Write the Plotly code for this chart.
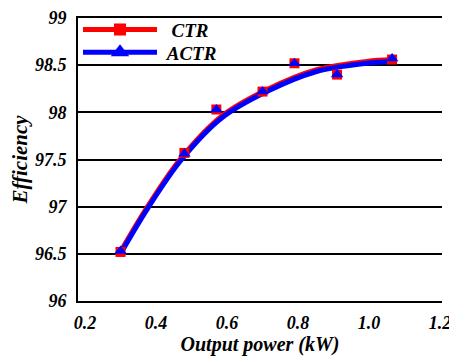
import plotly.graph_objects as go

# Measured data points
power_kw = [0.30, 0.48, 0.57, 0.70, 0.79, 0.91, 1.065]
ctr_eff = [96.52, 97.57, 98.03, 98.22, 98.52, 98.40, 98.56]
actr_eff = [96.53, 97.56, 98.03, 98.22, 98.52, 98.40, 98.57]

# Fitted trend curves
fit_x = [0.303, 0.378, 0.472, 0.585, 0.712, 0.850, 0.994, 1.064]
fit_ctr = [96.54, 97.01, 97.52, 97.96, 98.24, 98.45, 98.54, 98.56]
fit_actr = [96.52, 96.99, 97.50, 97.94, 98.22, 98.43, 98.52, 98.54]

y_ticks = [96, 96.5, 97, 97.5, 98, 98.5, 99]
y_tick_text = ["96", "96.5", "97", "97.5", "98", "98.5", "99"]
x_ticks = [0.2, 0.4, 0.6, 0.8, 1.0, 1.2]
x_tick_text = ["0.2", "0.4", "0.6", "0.8", "1.0", "1.2"]

RED = "#ff0000"
BLUE = "#0000ff"
FONT = "Liberation Serif"
LFONT = dict(family=FONT, size=19, weight="bold", style="italic")

fig = go.Figure()
fig.add_trace(go.Scatter(x=fit_x, y=fit_ctr, mode="lines", line=dict(color=RED, width=5, shape="spline"),
                         showlegend=False, hoverinfo="skip"))
fig.add_trace(go.Scatter(x=fit_x, y=fit_actr, mode="lines", line=dict(color=BLUE, width=5, shape="spline"),
                         showlegend=False, hoverinfo="skip"))
fig.add_trace(go.Scatter(x=power_kw, y=ctr_eff, mode="markers",
                         marker=dict(symbol="square", size=10, color=RED), showlegend=False))
fig.add_trace(go.Scatter(x=power_kw, y=actr_eff, mode="markers",
                         marker=dict(symbol="triangle-up", size=11, color=BLUE), showlegend=False))
# legend entries
fig.add_trace(go.Scatter(x=[None], y=[None], mode="lines+markers", name="\u00a0\u00a0CTR", legend="legend",
                         line=dict(color=RED, width=5), marker=dict(symbol="square", size=12, color=RED)))
fig.add_trace(go.Scatter(x=[None], y=[None], mode="lines+markers", name="\u00a0ACTR", legend="legend2",
                         line=dict(color=BLUE, width=5), marker=dict(symbol="triangle-up", size=16, color=BLUE)))

fig.update_layout(
    width=449, height=348,
    margin=dict(l=70, r=15, t=10, b=55, autoexpand=False),
    plot_bgcolor="white", paper_bgcolor="white",
    font=dict(family=FONT, color="black", size=18, weight="bold", style="italic"),
    legend=dict(x=0.0, y=1.026, xanchor="left", yanchor="top", bgcolor="rgba(0,0,0,0)",
                font=LFONT, itemwidth=74),
    legend2=dict(x=0.0, y=0.946, xanchor="left", yanchor="top", bgcolor="rgba(0,0,0,0)",
                 font=LFONT, itemwidth=74),
    xaxis=dict(range=[0.1803, 1.2056], tickvals=x_ticks, ticktext=x_tick_text, automargin=False,
               showgrid=False, zeroline=False, showline=True, mirror=True,
               linecolor="black", linewidth=2,
               ticks="", ticklabelstandoff=4,
               tickfont=dict(family=FONT, size=18, weight="bold", style="italic"),
               title=dict(text="Output power (kW)", standoff=2,
                          font=dict(family=FONT, size=20, weight="bold", style="italic"))),
    yaxis=dict(range=[96, 99], tickvals=y_ticks, ticktext=y_tick_text, automargin=False,
               showgrid=True, gridcolor="black", gridwidth=2, zeroline=False,
               showline=True, linecolor="black", linewidth=2, ticks="", ticklabelstandoff=6,
               ticklabeloverflow="allow",
               tickfont=dict(family=FONT, size=18, weight="bold", style="italic"),
               title=dict(text="Efficiency", standoff=3,
                          font=dict(family=FONT, size=21, weight="bold", style="italic"))),
)

fig.write_html("out.html")
